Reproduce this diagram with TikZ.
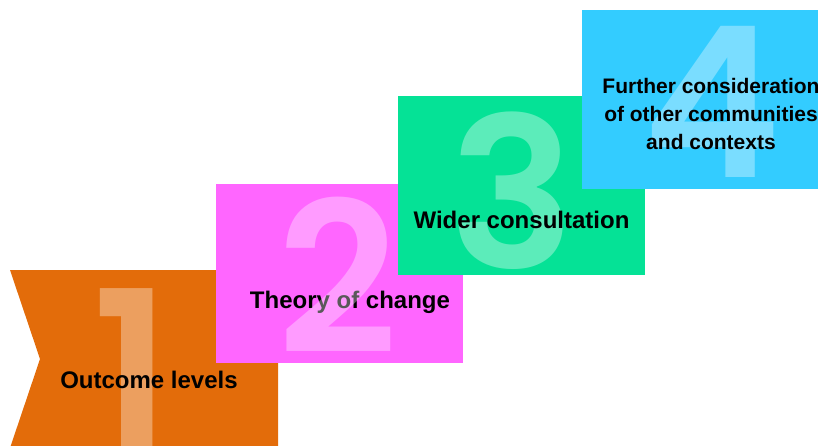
\documentclass[tikz,border=0pt]{standalone}
\usepackage{fontspec}
\setmainfont{Liberation Sans}
\newfontfamily\digitfont{Poppins SemiBold}
\definecolor{cOrange}{HTML}{E36C0A}
\definecolor{cMagenta}{HTML}{FF66FF}
\definecolor{cGreen}{HTML}{05E296}
\definecolor{cBlue}{HTML}{33CCFF}
\begin{document}
\begin{tikzpicture}[x=1pt,y=-1pt,
  stepbox/.style={draw=none,inner sep=0pt,outer sep=0pt,anchor=north west},
  bignum/.style={inner sep=0pt,outer sep=0pt,anchor=base,text=white,text opacity=0.35,
    font=\digitfont\fontsize{210}{210}\selectfont},
  label/.style={inner sep=0pt,align=center,text=black,font=\bfseries\fontsize{24}{28}\selectfont},
  smalllabel/.style={inner sep=0pt,align=center,text=black,font=\bfseries\fontsize{21}{28}\selectfont}]
\useasboundingbox (0,0) rectangle (818,445);
\clip (0,0) rectangle (818,445);
% step 1: chevron
\fill[cOrange] (10,270) coordinate (c1) -- (278,270) -- (278,448) -- (10,448) -- (40,359) -- cycle;
\node[bignum,font=\digitfont\fontsize{218}{218}\selectfont] (n1) at (132,447) {1};
\node[label] (t1) at (149,380) {Outcome levels};
% step 2
\node[stepbox,fill=cMagenta,minimum width=247,minimum height=179] (b2) at (216,184) {};
\node[label] (t2) at (350,302) {Theory of change};
\node[bignum] (n2) at (338,353) {2};
% step 3
\node[stepbox,fill=cGreen,minimum width=247,minimum height=179] (b3) at (398,96) {};
\node[bignum] (n3) at (512,268) {3};
\node[label] (t3) at (521.5,220) {Wider consultation};
% step 4
\node[stepbox,fill=cBlue,minimum width=258,minimum height=179] (b4) at (582,10) {};
\node[bignum] (n4) at (712,177) {4};
\node[smalllabel] (t4) at (711,114) {Further consideration\\of other communities\\and contexts};
\end{tikzpicture}
\end{document}
